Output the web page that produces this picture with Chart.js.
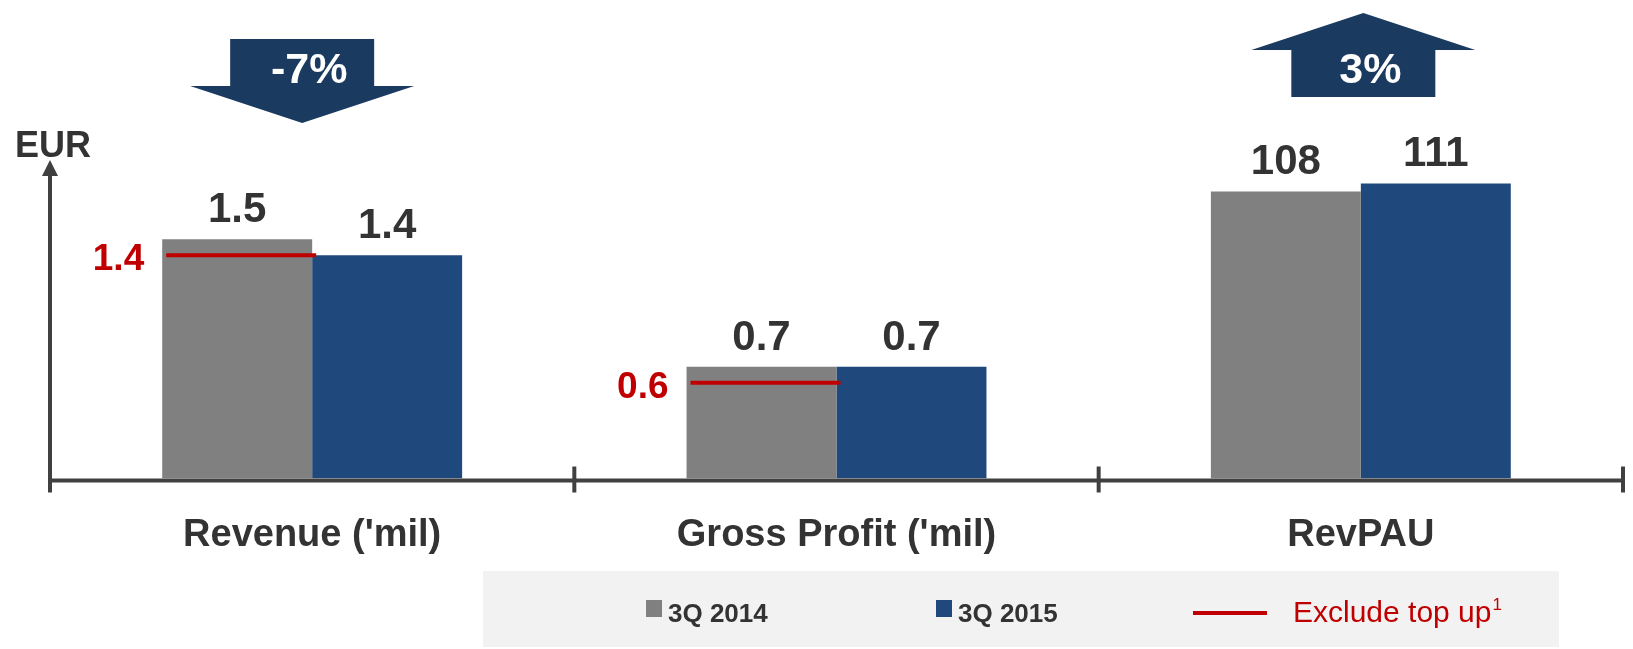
<!DOCTYPE html>
<html>
<head>
<meta charset="utf-8">
<script src="https://cdn.jsdelivr.net/npm/chart.js@4.4.1/dist/chart.umd.min.js"></script>
<style>
  html, body { margin: 0; padding: 0; background: #ffffff; }
</style>
</head>
<body>
<canvas id="kpi-chart" width="1633" height="649"></canvas>
<script>
(function () {
  // Revenue and gross profit in EUR million, RevPAU in EUR
  const categories = ["Revenue ('mil)", "Gross Profit ('mil)", 'RevPAU'];
  const seriesNames = ['3Q 2014', '3Q 2015'];
  const q3_2014 = [1.5, 0.7, 108];
  const q3_2015 = [1.4, 0.7, 111];
  const excludeTopUp = [1.4, 0.6, null];
  const changeLabels = ['-7%', null, '3%'];
  const changeDir = ['down', null, 'up'];

  const GRAY = '#808080';
  const BLUE = '#1f497d';
  const NAVY = '#1b3a60';
  const RED = '#c00000';
  const INK = '#333333';
  const AXIS = '#404040';
  const FONT = '"Liberation Sans", Arial, sans-serif';

  // first two categories share the million scale, RevPAU gets its own
  const onMil = arr => arr.map((v, i) => (i < 2 ? v : null));
  const onEur = arr => arr.map((v, i) => (i === 2 ? v : null));

  const barBase = { skipNull: true, categoryPercentage: 0.572, barPercentage: 1.0, borderWidth: 0 };

  const overlay = {
    id: 'overlay',
    afterDatasetsDraw(chart) {
      const ctx = chart.ctx;
      const x = chart.scales.x;
      const y = chart.scales.y;
      const area = chart.chartArea;
      const half = (x.getPixelForValue(1) - x.getPixelForValue(0)) / 2;
      const axisY = area.bottom + 2;

      ctx.save();

      // y axis with arrow head
      ctx.strokeStyle = AXIS;
      ctx.fillStyle = AXIS;
      ctx.lineWidth = 4;
      ctx.beginPath();
      ctx.moveTo(area.left, axisY);
      ctx.lineTo(area.left, 172);
      ctx.stroke();
      ctx.beginPath();
      ctx.moveTo(area.left, 160);
      ctx.lineTo(area.left - 8, 176);
      ctx.lineTo(area.left + 8, 176);
      ctx.closePath();
      ctx.fill();

      // x axis and category separators
      ctx.beginPath();
      ctx.moveTo(area.left, axisY);
      ctx.lineTo(area.right + 2, axisY);
      ctx.stroke();
      for (let i = 0; i <= categories.length; i++) {
        const px = i === 0 ? area.left : x.getPixelForValue(i - 1) + half;
        ctx.beginPath();
        ctx.moveTo(px, axisY - 14);
        ctx.lineTo(px, axisY + 12);
        ctx.stroke();
      }

      ctx.font = 'bold 36px ' + FONT;
      ctx.fillStyle = INK;
      ctx.textAlign = 'left';
      ctx.textBaseline = 'alphabetic';
      ctx.fillText('EUR', 15, 157);

      // category names
      ctx.font = 'bold 38px ' + FONT;
      ctx.textAlign = 'center';
      categories.forEach((c, i) => ctx.fillText(c, x.getPixelForValue(i), 546));

      // value labels above bars
      ctx.font = 'bold 42px ' + FONT;
      chart.data.datasets.forEach((ds, di) => {
        chart.getDatasetMeta(di).data.forEach((el, i) => {
          const v = ds.data[i];
          if (v == null) return;
          ctx.fillText(String(v), el.x, el.y - 17);
        });
      });

      // exclude top up marker across the 2014 bar
      const meta2014 = chart.getDatasetMeta(0);
      ctx.strokeStyle = RED;
      ctx.fillStyle = RED;
      excludeTopUp.forEach((v, i) => {
        if (v == null) return;
        const el = meta2014.data[i];
        const py = y.getPixelForValue(v);
        const left = el.x - el.width / 2;
        ctx.lineWidth = 4;
        ctx.beginPath();
        ctx.moveTo(left + 4, py);
        ctx.lineTo(left + el.width + 4, py);
        ctx.stroke();
        ctx.font = 'bold 37px ' + FONT;
        ctx.textAlign = 'right';
        ctx.textBaseline = 'middle';
        ctx.fillText(v.toFixed(1), left - 18, py + 5);
      });

      // change arrows
      changeLabels.forEach((lbl, i) => {
        if (!lbl) return;
        const up = changeDir[i] === 'up';
        const cx = x.getPixelForValue(i) + (up ? 2.5 : -10);
        ctx.fillStyle = NAVY;
        ctx.beginPath();
        if (up) {
          ctx.moveTo(cx, 13);
          ctx.lineTo(cx + 112, 50);
          ctx.lineTo(cx + 72, 50);
          ctx.lineTo(cx + 72, 97);
          ctx.lineTo(cx - 72, 97);
          ctx.lineTo(cx - 72, 50);
          ctx.lineTo(cx - 112, 50);
        } else {
          ctx.moveTo(cx - 72, 39);
          ctx.lineTo(cx + 72, 39);
          ctx.lineTo(cx + 72, 86);
          ctx.lineTo(cx + 112, 86);
          ctx.lineTo(cx, 123);
          ctx.lineTo(cx - 112, 86);
          ctx.lineTo(cx - 72, 86);
        }
        ctx.closePath();
        ctx.fill();
        ctx.fillStyle = '#ffffff';
        ctx.font = 'bold 43px ' + FONT;
        ctx.textAlign = 'center';
        ctx.textBaseline = 'middle';
        ctx.fillText(lbl, cx + 7, 71);
      });

      // legend panel
      ctx.fillStyle = '#f2f2f2';
      ctx.fillRect(483, 571, 1076, 76);
      const swatch = [GRAY, BLUE];
      const swatchX = [646, 936];
      ctx.textAlign = 'left';
      ctx.textBaseline = 'alphabetic';
      seriesNames.forEach((name, i) => {
        ctx.fillStyle = swatch[i];
        ctx.fillRect(swatchX[i], 600, 16, 17);
        ctx.fillStyle = INK;
        ctx.font = 'bold 26px ' + FONT;
        ctx.fillText(name, swatchX[i] + 22, 622);
      });
      ctx.strokeStyle = RED;
      ctx.lineWidth = 4;
      ctx.beginPath();
      ctx.moveTo(1193, 613);
      ctx.lineTo(1267, 613);
      ctx.stroke();
      ctx.fillStyle = RED;
      ctx.font = '30px ' + FONT;
      const txt = 'Exclude top up';
      ctx.fillText(txt, 1293, 622);
      const w = ctx.measureText(txt).width;
      ctx.font = '17px ' + FONT;
      ctx.fillText('1', 1293 + w + 1, 610);

      ctx.restore();
    }
  };

  new Chart(document.getElementById('kpi-chart').getContext('2d'), {
    type: 'bar',
    data: {
      labels: categories,
      datasets: [
        Object.assign({ label: seriesNames[0], data: onMil(q3_2014), yAxisID: 'y', backgroundColor: GRAY }, barBase),
        Object.assign({ label: seriesNames[1], data: onMil(q3_2015), yAxisID: 'y', backgroundColor: BLUE }, barBase),
        Object.assign({ label: seriesNames[0], data: onEur(q3_2014), yAxisID: 'y2', backgroundColor: GRAY }, barBase),
        Object.assign({ label: seriesNames[1], data: onEur(q3_2015), yAxisID: 'y2', backgroundColor: BLUE }, barBase)
      ]
    },
    options: {
      responsive: false,
      animation: false,
      layout: { padding: { left: 50, right: 10, top: 79.75, bottom: 170.5 } },
      plugins: { legend: { display: false }, tooltip: { enabled: false } },
      scales: {
        x: { display: false, offset: true },
        y: { display: false, min: 0, max: 2.5 },
        y2: { display: false, min: 0, max: 150 }
      }
    },
    plugins: [overlay]
  });
})();
</script>
</body>
</html>
